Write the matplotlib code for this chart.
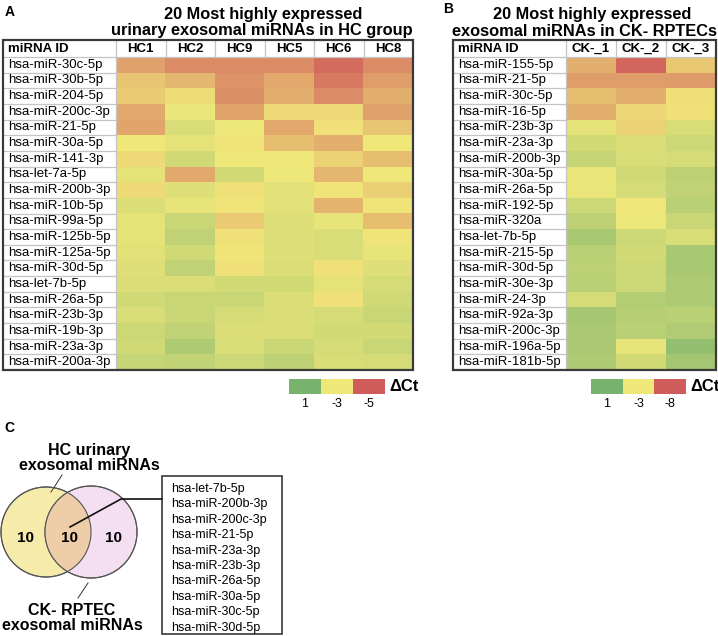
import matplotlib
matplotlib.use("Agg")
import matplotlib.pyplot as plt
import numpy as np
from matplotlib.colors import LinearSegmentedColormap, TwoSlopeNorm
from matplotlib.patches import Rectangle, Circle

plt.rcParams['font.family'] = ['Liberation Sans', 'DejaVu Sans']

# Panel A data (delta Ct)
hc_samples = ["HC1", "HC2", "HC9", "HC5", "HC6", "HC8"]
hc_mirnas = ["hsa-miR-30c-5p", "hsa-miR-30b-5p", "hsa-miR-204-5p", "hsa-miR-200c-3p",
             "hsa-miR-21-5p", "hsa-miR-30a-5p", "hsa-miR-141-3p", "hsa-let-7a-5p",
             "hsa-miR-200b-3p", "hsa-miR-10b-5p", "hsa-miR-99a-5p", "hsa-miR-125b-5p",
             "hsa-miR-125a-5p", "hsa-miR-30d-5p", "hsa-let-7b-5p", "hsa-miR-26a-5p",
             "hsa-miR-23b-3p", "hsa-miR-19b-3p", "hsa-miR-23a-3p", "hsa-miR-200a-3p"]
hc_dct = np.array([
    [-4.0, -4.3, -4.3, -4.3, -4.75, -4.3],
    [-3.5, -3.7, -4.2, -3.9, -4.55, -4.05],
    [-3.4, -3.15, -4.25, -3.8, -4.3, -3.8],
    [-3.9, -2.8, -3.95, -3.2, -3.2, -4.0],
    [-3.95, -2.2, -2.9, -3.9, -3.1, -3.5],
    [-3.0, -2.6, -3.05, -3.6, -3.8, -3.0],
    [-3.2, -1.9, -3.0, -3.0, -3.3, -3.6],
    [-2.6, -3.9, -2.0, -2.9, -3.7, -3.0],
    [-3.2, -2.4, -3.1, -2.5, -3.05, -3.35],
    [-2.3, -2.7, -3.05, -2.5, -3.75, -3.05],
    [-2.6, -1.7, -3.4, -2.4, -2.7, -3.6],
    [-2.6, -1.4, -3.1, -2.4, -2.2, -3.05],
    [-2.5, -1.9, -3.05, -2.4, -2.2, -2.7],
    [-2.4, -1.4, -3.1, -2.3, -3.1, -2.4],
    [-2.3, -2.3, -2.0, -2.0, -2.6, -2.1],
    [-1.9, -1.7, -1.7, -2.3, -3.1, -1.9],
    [-2.2, -1.7, -2.1, -2.3, -2.1, -1.7],
    [-1.8, -1.4, -2.3, -2.3, -2.0, -2.0],
    [-1.9, -0.8, -2.2, -1.7, -2.1, -1.7],
    [-1.6, -1.5, -1.8, -1.3, -2.2, -2.1],
])
hc_scale = [1, -3, -5]

# Panel B data (delta Ct)
ck_samples = ["CK-_1", "CK-_2", "CK-_3"]
ck_mirnas = ["hsa-miR-155-5p", "hsa-miR-21-5p", "hsa-miR-30c-5p", "hsa-miR-16-5p",
             "hsa-miR-23b-3p", "hsa-miR-23a-3p", "hsa-miR-200b-3p", "hsa-miR-30a-5p",
             "hsa-miR-26a-5p", "hsa-miR-192-5p", "hsa-miR-320a", "hsa-let-7b-5p",
             "hsa-miR-215-5p", "hsa-miR-30d-5p", "hsa-miR-30e-3p", "hsa-miR-24-3p",
             "hsa-miR-92a-3p", "hsa-miR-200c-3p", "hsa-miR-196a-5p", "hsa-miR-181b-5p"]
ck_dct = np.array([
    [-5.0, -7.6, -4.2],
    [-5.6, -5.6, -5.7],
    [-4.5, -5.0, -3.3],
    [-5.0, -3.6, -3.2],
    [-2.6, -3.8, -2.2],
    [-2.0, -2.3, -1.8],
    [-1.6, -2.2, -2.1],
    [-2.8, -1.9, -1.3],
    [-2.8, -2.1, -1.4],
    [-1.8, -3.1, -1.2],
    [-1.3, -2.9, -1.7],
    [-0.6, -1.8, -2.2],
    [-1.2, -2.0, -0.6],
    [-1.3, -1.8, -0.6],
    [-1.2, -1.8, -0.8],
    [-2.1, -1.0, -0.8],
    [-0.5, -1.1, -1.2],
    [-0.7, -1.2, -0.9],
    [-0.7, -2.7, 0.0],
    [-0.8, -2.0, -0.5],
])
ck_scale = [1, -3, -8]

# Panel C data
venn_counts = [10, 10, 10]
shared_mirnas = ["hsa-let-7b-5p", "hsa-miR-200b-3p", "hsa-miR-200c-3p", "hsa-miR-21-5p",
                 "hsa-miR-23a-3p", "hsa-miR-23b-3p", "hsa-miR-26a-5p", "hsa-miR-30a-5p",
                 "hsa-miR-30c-5p", "hsa-miR-30d-5p"]

W, H = 718, 636
fig = plt.figure(figsize=(W / 100, H / 100), dpi=100)
ax = fig.add_axes([0, 0, 1, 1])
ax.axis('off')

cmap = LinearSegmentedColormap.from_list("dct", ["#D05B5B", "#F1E87A", "#78B36E"])
border = "#3a3a3a"
light = "#c4c4c4"


def heat_table(x0, x_id, x1, y0, y_hdr, y1, samples, mirnas, vals, scale):
    norm = TwoSlopeNorm(vmin=scale[2], vcenter=scale[1], vmax=scale[0])
    ax.imshow(vals, cmap=cmap, norm=norm, extent=(x_id, x1, y1, y_hdr),
              aspect='auto', interpolation='nearest', zorder=1)
    n = len(mirnas)
    rh = (y1 - y_hdr) / n
    cw = (x1 - x_id) / len(samples)
    for i in range(1, n):
        y = y_hdr + i * rh
        ax.plot([x0, x_id], [y, y], color=light, lw=0.9, zorder=2)
    ax.plot([x0, x1], [y_hdr, y_hdr], color=light, lw=0.9, zorder=2)
    ax.plot([x_id, x_id], [y0, y1], color=light, lw=0.9, zorder=2)
    for j in range(1, len(samples)):
        x = x_id + j * cw
        ax.plot([x, x], [y0, y_hdr], color=light, lw=0.9, zorder=2)
    ax.add_patch(Rectangle((x0, y0), x1 - x0, y1 - y0, fill=False,
                           ec=border, lw=1.6, zorder=3))
    ax.text(x0 + 5, (y0 + y_hdr) / 2, "miRNA ID", fontsize=9.5, fontweight='bold',
            ha='left', va='center')
    for j, s in enumerate(samples):
        ax.text(x_id + (j + 0.5) * cw, (y0 + y_hdr) / 2, s, fontsize=9.5,
                fontweight='bold', ha='center', va='center')
    for i, m in enumerate(mirnas):
        ax.text(x0 + 5, y_hdr + (i + 0.5) * rh, m, fontsize=9.5, ha='left', va='center')


def scale_bar(x0, x1, y0, y1, scale):
    norm = TwoSlopeNorm(vmin=scale[2], vcenter=scale[1], vmax=scale[0])
    ax.imshow([scale], cmap=cmap, norm=norm, extent=(x0, x1, y1, y0),
              aspect='auto', interpolation='nearest', zorder=1)
    w = (x1 - x0) / len(scale)
    for k, v in enumerate(scale):
        ax.text(x0 + (k + 0.5) * w, y1 + 10, str(v), fontsize=9, ha='center', va='center')
    ax.text(x1 + 4, (y0 + y1) / 2, "ΔCt", fontsize=12, fontweight='bold',
            ha='left', va='center')


# Panel A
ax.text(5, 12, "A", fontsize=10, fontweight='bold', ha='left', va='center')
ax.text(263, 14, "20 Most highly expressed", fontsize=11.8, fontweight='bold',
        ha='center', va='center')
ax.text(262, 31, "urinary exosomal miRNAs in HC group", fontsize=11.8, fontweight='bold',
        ha='center', va='center')
heat_table(3, 116, 413, 40, 57, 370, hc_samples, hc_mirnas, hc_dct, hc_scale)
scale_bar(289, 385, 379, 394, hc_scale)

# Panel B
ax.text(443, 9, "B", fontsize=10, fontweight='bold', ha='left', va='center')
ax.text(592, 14, "20 Most highly expressed", fontsize=11.8, fontweight='bold',
        ha='center', va='center')
ax.text(584, 31, "exosomal miRNAs in CK- RPTECs", fontsize=11.8, fontweight='bold',
        ha='center', va='center')
heat_table(453, 566, 716, 40, 57, 370, ck_samples, ck_mirnas, ck_dct, ck_scale)
scale_bar(591, 686, 379, 394, ck_scale)

# Panel C: Venn
ax.text(4, 428, "C", fontsize=10, fontweight='bold', ha='left', va='center')
left = Circle((46, 532), 45, fc="#F6EBAB", ec="#555555", lw=0.8, zorder=1)
right = Circle((91, 532), 46, fc="#F4DEF1", ec="#555555", lw=0.8, zorder=1)
ax.add_patch(left)
ax.add_patch(right)
overlap = Circle((46, 532), 45, fc="#EDCEA9", ec='none', zorder=2)
ax.add_patch(overlap)
overlap.set_clip_path(right)
ax.add_patch(Circle((46, 532), 45, fill=False, ec="#555555", lw=0.8, zorder=3))
ax.add_patch(Circle((91, 532), 46, fill=False, ec="#555555", lw=0.8, zorder=3))
for cx, c in zip([26, 70, 113], venn_counts):
    ax.text(cx, 538, str(c), fontsize=11, fontweight='bold', ha='center', va='center', zorder=4)

ax.text(89, 458, "HC urinary\nexosomal miRNAs", fontsize=11.5, fontweight='bold',
        ha='center', va='center', linespacing=1.05)
ax.plot([62, 51], [475, 492], color="#333333", lw=0.7)
ax.text(72, 618, "CK- RPTEC\nexosomal miRNAs", fontsize=11.5, fontweight='bold',
        ha='center', va='center', linespacing=1.05)
ax.plot([88, 78], [583, 598], color="#333333", lw=0.7)

ax.plot([70, 121, 162], [527, 499, 499], color="#111111", lw=1.2, zorder=5)
ax.add_patch(Rectangle((162, 476), 120, 158, fill=False, ec=border, lw=1.2))
for k, m in enumerate(shared_mirnas):
    ax.text(171, 489 + k * 15.4, m, fontsize=9, ha='left', va='center')

ax.set_xlim(0, W)
ax.set_ylim(H, 0)
fig.savefig("out.png", dpi=100)
